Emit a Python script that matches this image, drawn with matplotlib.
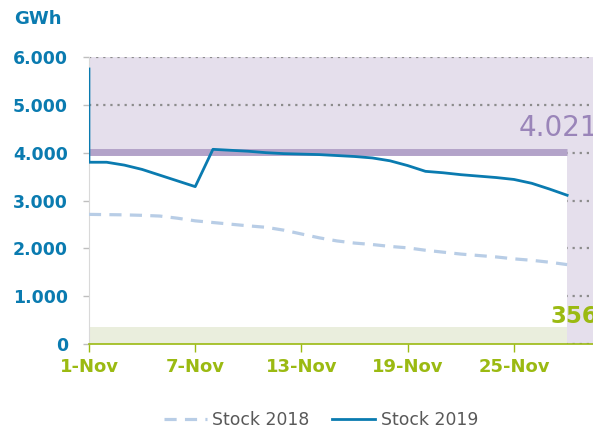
import matplotlib.pyplot as plt
from matplotlib.ticker import FuncFormatter, FixedLocator

# Daily gas storage levels in November (GWh), day 0 = 1-Nov
days = list(range(28))
stock_2018 = [2710, 2705, 2700, 2690, 2675, 2630, 2575, 2540, 2505, 2470, 2440,
              2380, 2300, 2220, 2155, 2110, 2080, 2040, 2010, 1960, 1920, 1880,
              1850, 1820, 1780, 1750, 1710, 1660]
days_2019 = [0] + days
stock_2019 = [5750, 3800, 3800, 3740, 3650, 3530, 3410, 3290, 4070, 4050, 4030,
              4000, 3980, 3970, 3960, 3940, 3920, 3890, 3830, 3730, 3610, 3580,
              3540, 3510, 3480, 3440, 3360, 3240, 3110]
max_stock = 4021
min_stock = 356

tick_days = [0, 6, 12, 18, 24]
tick_labels = ["1-Nov", "7-Nov", "13-Nov", "19-Nov", "25-Nov"]
y_ticks = [0, 1000, 2000, 3000, 4000, 5000, 6000]

blue = "#0a7bb0"
green = "#9bba12"
purple_fill = "#e5dfec"
purple_line = "#b3a3c9"
purple_text = "#9a85b9"

fig = plt.figure(figsize=(5.93, 4.30), dpi=100)
ax = fig.add_axes([0.150, 0.200, 0.850, 0.6674])

ax.set_facecolor(purple_fill)
ax.set_xlim(0, 28.46)
ax.set_ylim(0, 6000)

# dotted grid sits under the white "operating" window
ax.set_axisbelow(True)
ax.yaxis.grid(True, color="#8c8c8c", linestyle=(0, (1, 2.2)), linewidth=1.6)

ax.fill_between(days, 0, max_stock, color="white", zorder=1.5, linewidth=0)
ax.fill_between(days, 0, min_stock, color="#eaeedd", zorder=1.6, linewidth=0)
ax.plot([days[0], days[-1]], [max_stock, max_stock], color=purple_line,
        linewidth=5, solid_capstyle="butt", zorder=2)

ax.plot(days, stock_2018, color="#b8cde6", linewidth=2.3,
        linestyle=(0, (3.8, 2.6)), label="Stock 2018", zorder=3)
ax.plot(days_2019, stock_2019, color=blue, linewidth=2.0,
        label="Stock 2019", zorder=3)

ax.annotate(f"{max_stock:,}".replace(",", "."), (days[-1], max_stock),
            xytext=(-6, 11), textcoords="offset points", ha="center",
            va="baseline", fontsize=20, color=purple_text, annotation_clip=False)
ax.annotate(str(min_stock), (days[-1], min_stock), xytext=(5, 3),
            textcoords="offset points", ha="center", va="baseline",
            fontsize=16.5, fontweight="bold", color=green, annotation_clip=False)

for side in ["top", "right"]:
    ax.spines[side].set_visible(False)
ax.spines["left"].set_color("#d9d9d9")
ax.spines["bottom"].set_color(green)
ax.spines["bottom"].set_linewidth(1.2)
ax.spines["bottom"].set_zorder(4)

ax.xaxis.set_major_locator(FixedLocator(tick_days))
ax.set_xticklabels(tick_labels)
ax.yaxis.set_major_locator(FixedLocator(y_ticks))
ax.yaxis.set_major_formatter(FuncFormatter(lambda v, p: f"{int(v):,}".replace(",", ".")))

ax.tick_params(axis="x", colors=green, length=6, width=1, pad=4, labelsize=13)
ax.tick_params(axis="y", color="#bfbfbf", length=4, width=1, pad=11,
               labelsize=12.5, labelcolor=blue)
for lbl in ax.get_xticklabels() + ax.get_yticklabels():
    lbl.set_fontweight("bold")

fig.text(0.024, 0.955, "GWh", color=blue, fontsize=13, fontweight="bold",
         ha="left", va="center")

leg = fig.legend(loc="lower center", bbox_to_anchor=(0.541, -0.033), ncol=2,
                 frameon=False, fontsize=12.4, handlelength=2.5,
                 handletextpad=0.3, columnspacing=1.35)
for t in leg.get_texts():
    t.set_color("#595959")

fig.savefig("out.png", dpi=100)
